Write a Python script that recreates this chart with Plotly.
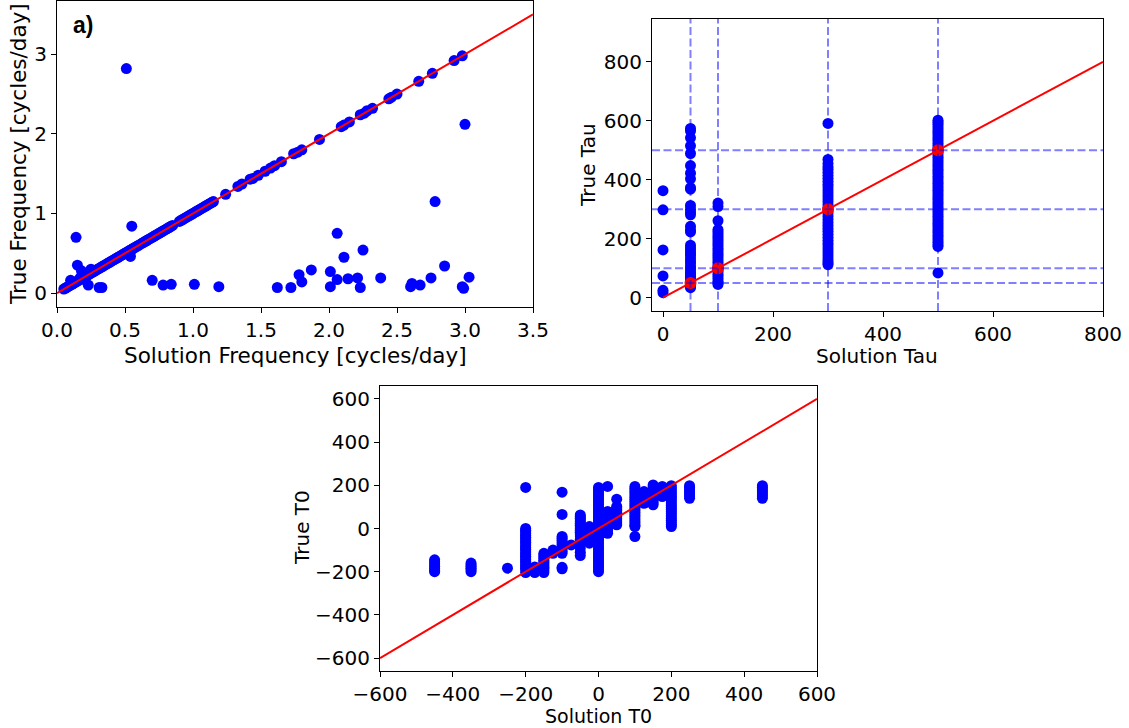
import plotly.graph_objects as go

W, H = 1129, 728

# ---------------- Panel a) frequency ----------------
freq_sol = [0.05, 0.06, 0.07, 0.08, 0.09, 0.10, 0.11, 0.12, 0.13, 0.14, 0.15, 0.16, 0.17, 0.18,
            0.19, 0.20, 0.21, 0.22, 0.23, 0.24, 0.25, 0.26, 0.27, 0.28, 0.29, 0.30, 0.31, 0.32,
            0.33, 0.34, 0.35, 0.36, 0.37, 0.38, 0.39, 0.40, 0.41, 0.42, 0.43, 0.44, 0.45, 0.46,
            0.47, 0.48, 0.49, 0.50, 0.51, 0.52, 0.53, 0.54, 0.55, 0.56, 0.57, 0.58, 0.59, 0.60,
            0.62, 0.63, 0.64, 0.65, 0.66, 0.67, 0.68, 0.69, 0.70, 0.71, 0.72, 0.73, 0.74, 0.75,
            0.76, 0.77, 0.78, 0.79, 0.80, 0.81, 0.82, 0.83, 0.84, 0.85, 0.90, 0.91, 0.92, 0.93,
            0.94, 0.95, 0.96, 0.97, 0.98, 0.99, 1.00, 1.01, 1.02, 1.03, 1.04, 1.05, 1.06, 1.07,
            1.08, 1.09, 1.10, 1.11, 1.12, 1.13, 1.14, 1.15,
            1.24, 1.33, 1.36, 1.42, 1.44, 1.48, 1.53, 1.57, 1.60, 1.65, 1.74, 1.77, 1.80, 1.93,
            2.09, 2.11, 2.15, 2.23, 2.26, 2.28, 2.32, 2.44, 2.46, 2.50, 2.66, 2.76, 2.92, 2.98,
            # off-diagonal points
            0.10, 0.15, 0.18, 0.22, 0.25, 0.17, 0.23, 0.31, 0.33, 0.14, 0.51, 0.55, 0.54,
            0.70, 0.78, 0.84, 1.01, 1.19, 1.62, 1.72, 1.78, 1.80, 1.87, 2.01, 2.01, 2.06, 2.06,
            2.11, 2.14, 2.21, 2.23, 2.25, 2.38, 2.60, 2.61, 2.67, 2.75, 2.78, 2.85, 2.98, 2.99,
            3.00, 3.03]
freq_true = [0.05, 0.06, 0.07, 0.08, 0.09, 0.10, 0.11, 0.12, 0.13, 0.14, 0.15, 0.16, 0.17, 0.18,
             0.19, 0.20, 0.21, 0.22, 0.23, 0.24, 0.25, 0.26, 0.27, 0.28, 0.29, 0.30, 0.31, 0.32,
             0.33, 0.34, 0.35, 0.36, 0.37, 0.38, 0.39, 0.40, 0.41, 0.42, 0.43, 0.44, 0.45, 0.46,
             0.47, 0.48, 0.49, 0.50, 0.51, 0.52, 0.53, 0.54, 0.55, 0.56, 0.57, 0.58, 0.59, 0.60,
             0.62, 0.63, 0.64, 0.65, 0.66, 0.67, 0.68, 0.69, 0.70, 0.71, 0.72, 0.73, 0.74, 0.75,
             0.76, 0.77, 0.78, 0.79, 0.80, 0.81, 0.82, 0.83, 0.84, 0.85, 0.90, 0.91, 0.92, 0.93,
             0.94, 0.95, 0.96, 0.97, 0.98, 0.99, 1.00, 1.01, 1.02, 1.03, 1.04, 1.05, 1.06, 1.07,
             1.08, 1.09, 1.10, 1.11, 1.12, 1.13, 1.14, 1.15,
             1.24, 1.34, 1.37, 1.43, 1.44, 1.48, 1.53, 1.57, 1.60, 1.65, 1.75, 1.77, 1.80, 1.93,
             2.09, 2.11, 2.15, 2.24, 2.26, 2.29, 2.32, 2.44, 2.46, 2.50, 2.66, 2.76, 2.92, 2.98,
             0.16, 0.35, 0.28, 0.25, 0.30, 0.19, 0.10, 0.07, 0.07, 0.70, 2.82, 0.84, 0.46,
             0.16, 0.10, 0.11, 0.11, 0.08, 0.07, 0.07, 0.23, 0.14, 0.29, 0.27, 0.08, 0.75, 0.17,
             0.45, 0.18, 0.19, 0.07, 0.54, 0.19, 0.08, 0.12, 0.10, 0.19, 1.15, 0.34, 0.08, 0.06,
             2.12, 0.20]
freq_line = [0.0, 3.5]

# ---------------- Panel b) tau ----------------
tau_sol = ([0] * 6 + [50] * 38 + [100] * 28 + [300] * 38 + [500] * 56)
tau_true = [363, 298, 162, 74, 25, 17,
            574, 565, 542, 515, 489, 448, 422, 403, 373, 368, 313, 300, 290, 281, 242, 230, 223,
            178, 169, 160, 152, 145, 135, 125, 118, 107, 100, 92, 84, 78, 73, 66, 60, 55, 48,
            42, 38, 34,
            321, 309, 261, 231, 224, 216, 208, 200, 192, 184, 176, 168, 160, 152, 144, 136, 128,
            120, 112, 104, 96, 88, 80, 72, 64, 56, 50, 45,
            591, 469, 455, 444, 436, 425, 415, 405, 395, 385, 375, 365, 355, 345, 335, 325, 315,
            305, 295, 285, 275, 265, 255, 245, 235, 225, 215, 205, 195, 185, 175, 165, 155, 145,
            135, 125, 118, 112,
            602, 595, 588, 580, 572, 564, 556, 548, 540, 532, 524, 516, 508, 500, 492, 484, 476,
            468, 460, 452, 444, 436, 428, 420, 412, 404, 396, 388, 380, 372, 364, 356, 348, 340,
            332, 324, 316, 308, 300, 292, 284, 276, 268, 260, 252, 244, 236, 228, 220, 212, 204,
            196, 188, 180, 174, 84]
tau_ref = [50, 100, 300, 500]
tau_grid = [50, 100, 300, 500]
tau_line = [0, 800]

# ---------------- Panel c) T0 ----------------
t0_sol = ([-450] * 7 + [-350] * 6 + [-250] * 1 + [-200] * 27 + [-175] * 4 + [-150] * 12 +
          [-125] * 3 + [-100] * 13 + [-75] * 1 + [-50] * 18 + [-25] * 9 + [0] * 40 +
          [25] * 12 + [50] * 11 + [100] * 21 + [125] * 6 + [150] * 10 + [175] * 6 +
          [200] * 20 + [250] * 7 + [450] * 7)
t0_true = [-145, -155, -165, -175, -185, -195, -200,
           -160, -168, -176, -184, -192, -200,
           -184,
           190, 0, -8, -16, -24, -32, -40, -48, -56, -64, -72, -80, -88, -96, -104, -112, -120,
           -128, -136, -144, -152, -160, -168, -176, -184, -192, -204,
           -178, -188, -198, -204,
           -115, -123, -131, -139, -147, -155, -163, -171, -179, -187, -195, -204,
           -100, -108, -115,
           168, 65, -37, -45, -55, -65, -75, -85, -95, -105, -115, -180, -187,
           -76,
           63, 55, 47, 39, 31, 23, 15, 7, -1, -9, -17, -25, -35, -50, -70, -90, -110, -125,
           9, 0, -10, -20, -30, -40, -50, -60, -68,
           190, 180, 170, 160, 150, 140, 130, 120, 110, 100, 90, 80, 70, 60, 50, 40, 30, 20, 10,
           0, -10, -20, -30, -40, -50, -60, -70, -80, -90, -100, -110, -120, -130, -140, -150,
           -160, -170, -180, -190, -200,
           195, 79, 70, 60, 50, 40, 30, 20, 10, 0, -10, -22,
           136, 102, 95, 85, 75, 65, 55, 45, 35, 25, 17,
           195, 185, 175, 165, 155, 145, 135, 125, 115, 105, 95, 85, 75, 65, 55, 45, 35, 25, 15,
           9, -37,
           171, 160, 150, 140, 130, 117,
           202, 192, 182, 172, 162, 152, 142, 132, 120, 110,
           195, 185, 175, 165, 155, 148,
           198, 188, 178, 168, 158, 148, 138, 128, 118, 108, 98, 88, 78, 68, 58, 48, 38, 28, 18, 9,
           198, 190, 180, 170, 160, 150, 140,
           198, 190, 180, 170, 160, 150, 140]
t0_line = [-600, 600]

# tick definitions
f_xticks = [0.0, 0.5, 1.0, 1.5, 2.0, 2.5, 3.0, 3.5]
f_yticks = [0, 1, 2, 3]
tau_ticks = [0, 200, 400, 600, 800]
t0_ticks = [-600, -400, -200, 0, 200, 400, 600]
t0_ticktext = ["\u2212600", "\u2212400", "\u2212200", "0", "200", "400", "600"]

BLUE = "#0000ff"
RED = "#ff0000"
FONT = "DejaVu Sans"
MS = 11

fig = go.Figure()

# Panel a
fig.add_trace(go.Scatter(x=freq_sol, y=freq_true, mode="markers", xaxis="x", yaxis="y",
                         marker=dict(color=BLUE, size=MS, line=dict(width=0)), showlegend=False))
fig.add_trace(go.Scatter(x=freq_line, y=freq_line, mode="lines", xaxis="x", yaxis="y",
                         line=dict(color=RED, width=2), showlegend=False))

# Panel b
fig.add_trace(go.Scatter(x=tau_sol, y=tau_true, mode="markers", xaxis="x2", yaxis="y2",
                         marker=dict(color=BLUE, size=MS, line=dict(width=0)), showlegend=False))
fig.add_trace(go.Scatter(x=tau_line, y=tau_line, mode="lines", xaxis="x2", yaxis="y2",
                         line=dict(color=RED, width=2), showlegend=False))
fig.add_trace(go.Scatter(x=tau_ref, y=tau_ref, mode="markers", xaxis="x2", yaxis="y2",
                         marker=dict(color=RED, size=MS + 1, line=dict(width=0)), showlegend=False))

# Panel c
fig.add_trace(go.Scatter(x=t0_sol, y=t0_true, mode="markers", xaxis="x3", yaxis="y3",
                         marker=dict(color=BLUE, size=MS, line=dict(width=0)), showlegend=False))
fig.add_trace(go.Scatter(x=t0_line, y=t0_line, mode="lines", xaxis="x3", yaxis="y3",
                         line=dict(color=RED, width=2), showlegend=False))

# dashed reference lines in panel b
shapes = []
for v in tau_grid:
    shapes.append(dict(type="line", xref="x2", yref="y2 domain", x0=v, x1=v, y0=0, y1=1,
                       line=dict(color="rgba(0,0,255,0.5)", width=2, dash="8px,3.5px"), layer="above"))
    shapes.append(dict(type="line", xref="x2 domain", yref="y2", x0=0, x1=1, y0=v, y1=v,
                       line=dict(color="rgba(0,0,255,0.5)", width=2, dash="8px,3.5px"), layer="above"))

axis_common = dict(showgrid=False, zeroline=False, showline=True, mirror=True, automargin=False,
                   linecolor="black", linewidth=1, ticks="outside", ticklen=5, tickwidth=1,
                   tickcolor="black", tickfont=dict(family=FONT, size=20, color="black"))


def px_x(p):
    return p / W


def px_y(p):
    return 1 - p / H


fig.update_layout(
    width=W, height=H, autosize=False,
    margin=dict(l=0, r=0, t=0, b=0),
    paper_bgcolor="white", plot_bgcolor="white",
    xaxis=dict(domain=[px_x(57), px_x(533)], range=[0, 3.5], tickvals=f_xticks,
               ticktext=[f"{v:.1f}" for v in f_xticks], anchor="y", **axis_common),
    yaxis=dict(domain=[px_y(307), px_y(0.5)], range=[-0.175, 3.675], tickvals=f_yticks,
               anchor="x", **axis_common),
    xaxis2=dict(domain=[px_x(652), px_x(1103)], range=[-20, 800], tickvals=tau_ticks,
                anchor="y2", **axis_common),
    yaxis2=dict(domain=[px_y(311), px_y(19)], range=[-45, 945], tickvals=tau_ticks,
                anchor="x2", **axis_common),
    xaxis3=dict(domain=[px_x(380), px_x(817)], range=[-600, 600], tickvals=t0_ticks,
                ticktext=t0_ticktext, anchor="y3", **axis_common),
    yaxis3=dict(domain=[px_y(671), px_y(386)], range=[-660, 660], tickvals=t0_ticks,
                ticktext=t0_ticktext, anchor="x3", **axis_common),
    shapes=shapes,
)

annots = [
    dict(text="Solution Frequency [cycles/day]", x=px_x(295), y=px_y(355), size=21.5),
    dict(text="True Frequency [cycles/day]", x=px_x(18), y=px_y(154), textangle=-90, size=21.5),
    dict(text="Solution Tau", x=px_x(877), y=px_y(356), size=20),
    dict(text="True Tau", x=px_x(588), y=px_y(165), textangle=-90, size=20),
    dict(text="Solution T0", x=px_x(598), y=px_y(716), size=19),
    dict(text="True T0", x=px_x(302), y=px_y(528), textangle=-90, size=20),
]
for a in annots:
    size = a.pop("size")
    fig.add_annotation(xref="paper", yref="paper", showarrow=False, xanchor="center",
                       yanchor="middle", borderpad=0,
                       font=dict(family=FONT, size=size, color="black"), **a)

fig.add_annotation(text="<b>a)</b>", xref="paper", yref="paper", x=px_x(83), y=px_y(25),
                   showarrow=False, xanchor="center", yanchor="middle",
                   font=dict(family="Liberation Sans", size=23, color="black"))

fig.write_html("out.html")
